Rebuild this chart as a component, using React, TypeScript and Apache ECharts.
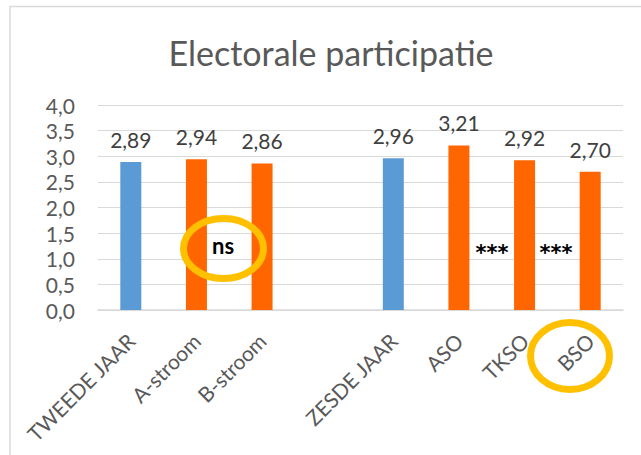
import React, { useEffect, useRef } from 'react';
import * as echarts from 'echarts';

const titleText = 'Electorale participatie';
const categories = ['TWEEDE JAAR', 'A-stroom', 'B-stroom', '', 'ZESDE JAAR', 'ASO', 'TKSO', 'BSO'];
const values: (number | null)[] = [2.89, 2.94, 2.86, null, 2.96, 3.21, 2.92, 2.7];
const groupOf = ['total', 'sub', 'sub', '', 'total', 'sub', 'sub', 'sub'];
const yMin = 0;
const yMax = 4;
const yStep = 0.5;
const annotationTexts = ['ns', '***', '***'];

const BLUE = '#5B9BD5';
const ORANGE = '#FF6600';
const GOLD = '#FFC000';
const FONT = 'Lato, "Noto Sans", sans-serif';

const fmt = (v: number, d: number) => v.toFixed(d).replace('.', ',');

export default function App() {
  const ref = useRef<HTMLDivElement>(null);
  useEffect(() => {
    if (!ref.current) return;
    const chart = echarts.init(ref.current, undefined, { renderer: 'svg' });
    const data = values.map((v, i) =>
      v == null
        ? '-'
        : { value: v, itemStyle: { color: groupOf[i] === 'total' ? BLUE : ORANGE } }
    );
    chart.setOption({
      animation: false,
      backgroundColor: '#ffffff',
      grid: { left: 98, right: 18, top: 105, bottom: 145, containLabel: false },
      xAxis: {
        type: 'category',
        data: categories,
        boundaryGap: true,
        axisLine: { show: true, lineStyle: { color: '#d9d9d9', width: 1.5 } },
        axisTick: { show: false },
        axisLabel: {
          interval: 0,
          rotate: 45,
          margin: 27,
          align: 'right',
          verticalAlign: 'middle',
          color: '#595959',
          fontSize: 21,
          fontFamily: FONT,
        },
      },
      yAxis: {
        type: 'value',
        min: yMin,
        max: yMax,
        interval: yStep,
        axisLine: { show: false },
        axisTick: { show: false },
        splitLine: { lineStyle: { color: '#d9d9d9', width: 1 } },
        axisLabel: {
          margin: 23,
          color: '#595959',
          fontSize: 21,
          fontFamily: FONT,
          formatter: (v: number) => fmt(v, 1),
        },
      },
      series: [
        {
          type: 'bar',
          data,
          barWidth: 21,
          label: {
            show: true,
            position: 'top',
            distance: 12,
            color: '#404040',
            fontSize: 21,
            fontFamily: FONT,
            formatter: (p: any) => fmt(p.value, 2),
          },
        },
      ],
      graphic: [
        {
          type: 'rect',
          silent: true,
          shape: { x: 10, y: 6.5, width: 700, height: 500 },
          style: { fill: 'none', stroke: '#d9d9d9', lineWidth: 1.5 },
          z: -1,
        },
        {
          type: 'text',
          x: 331,
          y: 52,
          style: {
            text: titleText,
            fill: '#595959',
            fontSize: 34,
            fontFamily: FONT,
            textAlign: 'center',
            textVerticalAlign: 'middle',
          },
        },
        {
          type: 'ellipse',
          shape: { cx: 223.5, cy: 248.5, rx: 40, ry: 30 },
          style: { fill: 'none', stroke: GOLD, lineWidth: 7 },
          z: 10,
        },
        {
          type: 'text',
          x: 223,
          y: 245,
          z: 11,
          style: {
            text: annotationTexts[0],
            fill: '#000000',
            fontSize: 22,
            fontWeight: 'bold',
            fontFamily: FONT,
            textAlign: 'center',
            textVerticalAlign: 'middle',
          },
        },
        {
          type: 'text',
          x: 492,
          y: 253,
          z: 11,
          style: {
            text: annotationTexts[1],
            fill: '#000000',
            fontSize: 21,
            fontWeight: 'bold',
            fontFamily: '"DejaVu Sans", sans-serif',
            textAlign: 'center',
            textVerticalAlign: 'middle',
          },
        },
        {
          type: 'text',
          x: 556,
          y: 253,
          z: 11,
          style: {
            text: annotationTexts[2],
            fill: '#000000',
            fontSize: 21,
            fontWeight: 'bold',
            fontFamily: '"DejaVu Sans", sans-serif',
            textAlign: 'center',
            textVerticalAlign: 'middle',
          },
        },
        {
          type: 'ellipse',
          shape: { cx: 570, cy: 356, rx: 39.5, ry: 33.5 },
          style: { fill: 'none', stroke: GOLD, lineWidth: 7 },
          z: 10,
        },
      ],
    });
    return () => chart.dispose();
  }, []);
  return (
    <div
      ref={ref}
      style={{ position: 'absolute', left: 0, top: 0, width: 641, height: 455, background: '#fff' }}
    />
  );
}
